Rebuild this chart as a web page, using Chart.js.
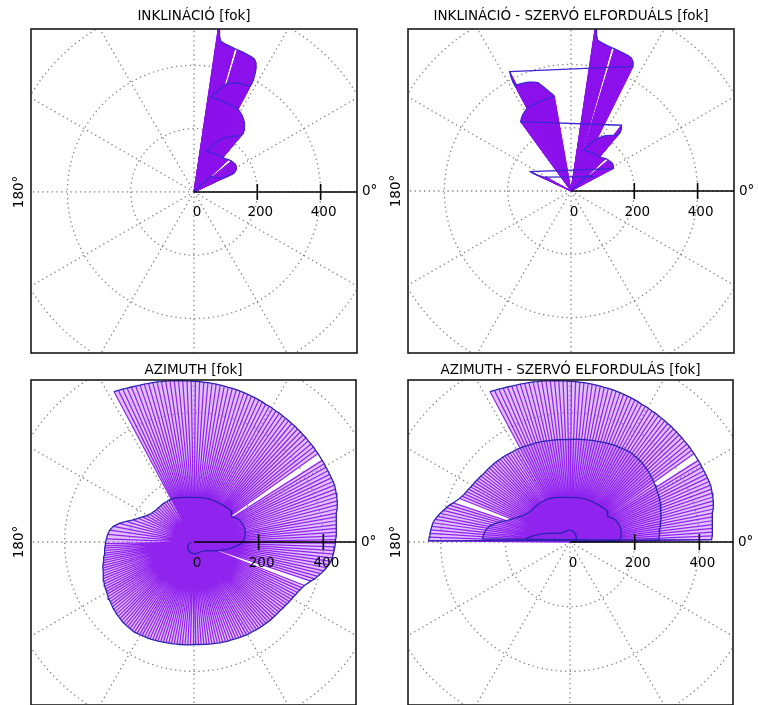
<!DOCTYPE html>
<html>
<head>
<meta charset="utf-8">
<script src="https://cdn.jsdelivr.net/npm/chart.js"></script>
<style>
  body { margin: 0; background: #fff; width: 758px; height: 705px; overflow: hidden; position: relative; }
  canvas { position: absolute; }
</style>
</head>
<body>
<canvas id="incChart" width="379" height="355" style="left:0;top:0"></canvas>
<canvas id="incServoChart" width="379" height="355" style="left:379px;top:0"></canvas>
<canvas id="aziChart" width="379" height="350" style="left:0;top:355px"></canvas>
<canvas id="aziServoChart" width="379" height="350" style="left:379px;top:355px"></canvas>
<script>
// polar grid + axis
const ringRadii = [200, 400, 600];
const gridAngles = [0, 30, 60, 90, 120, 150, 180, 210, 240, 270, 300, 330];
const tickValues = [0, 200, 400];
const tickLabels = ["0", "200", "400"];
const zeroLabel = "0°";
const halfLabel = "180°";

// inclination samples (deg, radius); null radius = missing sample
const inclinationAngles = [
  45, 44.5, 44, 43.5, 43, 38, 33, 29, 26.5, 25.5,
  25, 25, 25.5, 28, 31, 34, 37, 39.5, 41, 43,
  46, 50, 55, 60, 66, 73, 71, 68.5, 66, 63.5,
  61, 58, 55, 52, 50, 50, 51, 52.5, 54, 56,
  58, 60, 62, 66, 71, 76, 80, 79, 77.5, 76,
  74.5, 73, 71, 68.5, 65, 62, 62, 62.3, 62.8, 63.5,
  64.3, 65.5, 67, 69, 71, 73, 73.6, 74.2, 76, 78,
  80, 80.5, 81, 81.3, 81.5, 81.6,
];
const inclinationRadii = [
  0, 20, 40, 58, 74, 78, 83, 90, 100, 112,
  124, 135, 142, 151, 156, 157, 155, 153, null, 150,
  145, 141, 139, 138, 136, 135, 143, 156, 170, 183,
  195, 206, 215, 224, 232, 242, 252, 262, 271, 279,
  286, 291, 296, 298, 300, 302, 304, 312, 322, 334,
  346, 358, 364, 370, 374, 378, 392, 408, 424, 440,
  452, 461, 464, 466, 468, 470, null, 471, 474, 478,
  484, 495, 510, 540, 580, 620,
];
// same samples, inclination - servo
const inclinationServoAngles = [
  45, 44.5, 44, 43.5, 43, 38, 33, 151, 153.5, 154.5,
  155, 155, 154.5, 28, 31, 34, 37, 39.5, 41, 43,
  46, 50, 55, 60, 66, 73, 71, 68.5, 66, 63.5,
  61, 58, 55, 52, 50, 50, 51, 52.5, 126, 124,
  122, 120, 118, 114, 109, 104, 100, 101, 102.5, 104,
  105.5, 107, 109, 111.5, 115, 118, 118, 117.7, 117.2, 63.5,
  64.3, 65.5, 67, 69, 71, 73, 73.6, 74.2, 76, 78,
  80, 80.5, 81, 81.3, 81.5, 81.6,
];

// azimuth samples, split where the servo steps
const azimuthAnglesA = [
  118, 116.5, 115, 113.5, 112, 110.5, 109, 107.5, 106, 104.5,
  103, 101.5, 100, 98.5, 97, 95.5, 94, 92.5, 91, 89.5,
  88, 86.5, 85, 83.5, 82, 80.5, 79, 77.5, 76, 74.5,
  73, 71.5, 70, 68.5, 67, 65.5, 64, 62.5, 61, 59.5,
  58, 56.5, 55, 53.5, 52, 50.5, 49, 47.5, 46, 44.5,
  43, 41.5, 40, 38.5, 37, 35.5, 34, 32.5, 31, 29.5,
  28, 26.5, 25, 23.5, 22, 20.5, 19, 17.5, 16, 14.5,
  13, 11.5, 10, 8.5, 7, 5.5, 4, 2.5, 1,
];
const azimuthRadiiA = [
  527, 524, 522, 519, 517, 515, 513, 512, 510, 509,
  508, 506, 505, 504, 503, 501, 500, 499, 498, 497,
  496, 495, 495, 494, 493, 492, 491, 490, 490, 489,
  488, 487, 486, 485, 484, 483, 482, 480, 480, 479,
  478, 478, 477, 476, 476, 475, 475, 474, 474, 473,
  473, 472, 472, 472, 471, 471, null, 470, 470, 469,
  469, 469, 469, 469, 469, 467, 465, 463, 461, 458,
  454, 449, 447, 445, 444, 442, 441, 440, 438,
];
const azimuthAnglesB = [
  -0.5, -2, -3.5, -5, -6.5, -8, -9.5, -11, -12.5, -14,
  -15.5, -17, -18.5, -20, -21.5, -23, -24.5, -26, -27.5, -29,
  -30.5, -32, -33.5, -35, -36.5, -38, -39.5, -41, -42.5, -44,
  -45.5, -47, -48.5, -50, -51.5, -53, -54.5, -56, -57.5, -59,
  -60.5, -62, -63.5, -65, -66.5, -68, -69.5, -71, -72.5, -74,
  -75.5, -77, -78.5, -80, -81.5, -83, -84.5, -86, -87.5, -89,
  -90.5, -92, -93.5, -95, -96.5, -98, -99.5, -101, -102.5, -104,
  -105.5, -107, -108.5, -110, -111.5, -113, -114.5, -116, -117.5, -119,
  -120.5, -122, -123.5, -125, -126.5, -128, -129.5, -131, -132.5, -134,
  -135.5, -137, -138.5, -140, -141.5, -143, -144.5, -146, -147.5, -149,
  -150.5, -152, -153.5, -155, -156.5, -158, -159.5, -161, -162.5, -164,
  -165.5, -167, -168.5, -170, -171.5, -173, -174.5, -176, -177.5, -179,
];
const azimuthRadiiB = [
  437, 436, 434, 432, 430, 428, 423, 417, 411, 404,
  397, 390, 381, null, 367, 363, 359, 356, 354, 351,
  349, 348, 346, 344, 343, 341, 340, 340, 339, 338,
  338, 337, 336, 335, 335, 334, 333, 332, 331, 331,
  330, 329, 328, 327, 326, 325, 324, 324, 323, 322,
  322, 321, 320, 320, 319, 319, 318, 318, 317, 317,
  317, 318, 318, 319, 319, 320, 320, 321, 322, 322,
  323, 324, 325, 326, 327, 328, 329, 330, 330, 331,
  332, 333, 334, 334, 333, 333, 332, 332, 331, 329,
  328, 327, 325, 324, 322, 320, 318, 317, 315, 313,
  311, 310, 308, 306, 304, 302, 299, 297, 295, 293,
  291, 288, 286, 283, 281, 279, 278, 276, 275, 274,
];
const azimuthAnglesC = [
  -182, -185, -188, -191, -194, -197, -200, -203, -206, -209,
  -212, -215, -218, -221, -224, -227, -230, -233, -236, -239,
  -242, -245, -248, -251, -254, -257, -260, -263, -266, -269,
  -272, -275, -278, -281, -284, -287, -290, -293, -296, -299,
  -302, -305, -308, -311, -314, -317, -320, -323, -326, -329,
  -332, -335, -338, -341, -344, -347, -350, -353, -356, -359,
];
const azimuthRadiiC = [
  271, 268, 263, 254, 238, 219, 200, 188, 177, 168,
  162, 158, 155, 153, 153, 152, 152, 152, 151, 151,
  150, 149, 147, 145, 143, 142, 140, 139, 138, 138,
  138, 138, 139, 139, 140, 140, 141, 142, 142, 143,
  143, 144, 145, 146, 147, 149, 150, 146, 140, 147,
  153, 157, 159, 161, 162, 162, 161, 159, 156, 152,
];
const azimuthAnglesD = [
  -362, -366, -370, -374, -378, -382, -386, -390, -394, -398,
  -402, -406, -410, -414, -418, -422, -426, -430, -434, -438,
  -442, -446, -450, -454, -458, -462, -466, -470, -474, -478,
  -482, -486, -490, -494, -498, -502, -506, -510, -514, -518,
  -522, -526, -530,
];
const azimuthRadiiD = [
  146, 130, 113, 98, 84, 72, 62, 54, 48, 44,
  41, 39, 38, 37, 37, 36, 36, 36, 36, 37,
  37, 37, 36, 36, 35, 35, 34, 33, 32, 31,
  30, 29, 28, 27, 26, 25, 24, 22, 20, 18,
  15, 12, 8,
];
const servoOffsets = [0, 180, 360, 540];

Chart.defaults.font.family = "'DejaVu Sans', sans-serif";

const deg = Math.PI / 180;
function toXY(a, r) {
  return { x: r * Math.cos(a * deg), y: r * Math.sin(a * deg) };
}

function samples(angles, radii, offset) {
  return angles.map((a, i) => ({ a: a + (offset || 0), r: radii[i] }));
}

// wedge fill between neighbouring samples, a spoke per sample, and the sample trace
function polarSets(list, look) {
  const origin = { x: 0, y: 0 };
  const gap = { x: null, y: null };
  const wedges = [], spokes = [], edge = [];
  list.forEach((s, i) => {
    if (s.r === null) return;
    const p = toXY(s.a, s.r);
    spokes.push(origin, p);
    edge.push(p);
    const n = list[i + 1];
    if (n && n.r !== null && Math.abs(n.a - s.a) <= 20) {
      wedges.push(origin, p, toXY(n.a, n.r), gap);
    }
  });
  return [
    { data: edge, showLine: true, borderColor: look.edge, borderWidth: 1.3, order: 1 },
    { data: spokes, showLine: true, borderColor: look.spoke, borderWidth: look.spokeWidth, borderJoinStyle: "bevel", order: 2 },
    { data: wedges, showLine: true, spanGaps: false, borderWidth: 0, backgroundColor: look.fill, fill: "shape", order: 3 },
  ];
}

const polarFrame = {
  id: "polarFrame",
  beforeDatasetsDraw(chart) {
    const { ctx, chartArea: a, scales: { x, y } } = chart;
    const cx = x.getPixelForValue(0), cy = y.getPixelForValue(0);
    ctx.save();
    ctx.beginPath();
    ctx.rect(a.left, a.top, a.right - a.left, a.bottom - a.top);
    ctx.clip();
    ctx.strokeStyle = "#808080";
    ctx.lineWidth = 1.3;
    ctx.setLineDash([1.3, 3.4]);
    ringRadii.forEach((r) => {
      ctx.beginPath();
      ctx.arc(cx, cy, x.getPixelForValue(r) - cx, 0, Math.PI * 2);
      ctx.stroke();
    });
    const far = ringRadii[ringRadii.length - 1] * 1.5;
    gridAngles.forEach((d) => {
      ctx.beginPath();
      ctx.moveTo(cx, cy);
      ctx.lineTo(x.getPixelForValue(far * Math.cos(d * deg)), y.getPixelForValue(far * Math.sin(d * deg)));
      ctx.stroke();
    });
    ctx.restore();
  },
  afterDatasetsDraw(chart) {
    const { ctx, chartArea: a, scales: { x, y } } = chart;
    const cx = x.getPixelForValue(0), cy = y.getPixelForValue(0);
    ctx.save();
    ctx.strokeStyle = "#1a1a1a";
    ctx.lineWidth = 1.6;
    ctx.strokeRect(a.left, a.top, a.right - a.left, a.bottom - a.top);
    ctx.strokeStyle = "#000";
    ctx.beginPath();
    ctx.moveTo(cx, cy);
    ctx.lineTo(a.right, cy);
    ctx.stroke();
    ctx.font = "13.5px 'DejaVu Sans'";
    ctx.fillStyle = "#000";
    ctx.textAlign = "center";
    ctx.textBaseline = "middle";
    tickValues.forEach((v, i) => {
      const px = x.getPixelForValue(v);
      if (v !== 0) {
        ctx.beginPath();
        ctx.moveTo(px, cy - 8);
        ctx.lineTo(px, cy + 8);
        ctx.stroke();
      }
      ctx.fillText(tickLabels[i], px + 3, cy + 21);
    });
    ctx.textAlign = "left";
    ctx.fillText(zeroLabel, a.right + 5, cy);
    ctx.translate(a.left - 12, cy);
    ctx.rotate(-Math.PI / 2);
    ctx.textAlign = "center";
    ctx.fillText(halfLabel, 0, 0);
    ctx.restore();
  },
};

function polarChart(id, title, list, look, box) {
  return new Chart(document.getElementById(id), {
    type: "scatter",
    data: { datasets: polarSets(list, look) },
    options: {
      responsive: false,
      animation: false,
      events: [],
      layout: { padding: box.padding },
      elements: { point: { radius: 0, hoverRadius: 0 }, line: { tension: 0 } },
      scales: {
        x: { type: "linear", display: false, min: box.x[0], max: box.x[1] },
        y: { type: "linear", display: false, min: box.y[0], max: box.y[1] },
      },
      plugins: {
        legend: { display: false },
        tooltip: { enabled: false },
        title: {
          display: true,
          text: title,
          color: "#000",
          font: { size: 13.5, weight: "normal" },
          padding: { top: 0, bottom: box.titleGap },
        },
      },
    },
    plugins: [polarFrame],
  });
}

const solidLook = { fill: "rgb(140, 16, 236)", spoke: "rgb(140, 16, 236)", spokeWidth: 1, edge: "rgb(60, 40, 210)" };
const fanLook = { fill: "rgba(182, 105, 255, 0.42)", spoke: "rgb(145, 35, 238)", spokeWidth: 1.25, edge: "rgb(45, 35, 175)" };

polarChart("incChart", "INKLINÁCIÓ [fok]",
  samples(inclinationAngles, inclinationRadii), solidLook,
  { padding: { left: 31, right: 22, top: 8.8, bottom: 2 }, titleGap: 4.0, x: [-515, 515], y: [-509, 515] });

polarChart("incServoChart", "INKLINÁCIÓ - SZERVÓ ELFORDUÁLS [fok]",
  samples(inclinationServoAngles, inclinationRadii), solidLook,
  { padding: { left: 29, right: 24, top: 8.8, bottom: 2 }, titleGap: 4.0, x: [-515, 515], y: [-512, 512] });

const azimuthParts = [
  [azimuthAnglesA, azimuthRadiiA],
  [azimuthAnglesB, azimuthRadiiB],
  [azimuthAnglesC, azimuthRadiiC],
  [azimuthAnglesD, azimuthRadiiD],
];

polarChart("aziChart", "AZIMUTH [fok]",
  azimuthParts.flatMap(([a, r]) => samples(a, r, 0)), fanLook,
  { padding: { left: 31, right: 23, top: 7.6, bottom: 0 }, titleGap: 1.2, x: [-504, 501], y: [-504, 501] });

polarChart("aziServoChart", "AZIMUTH - SZERVÓ ELFORDULÁS [fok]",
  azimuthParts.flatMap(([a, r], i) => samples(a, r, servoOffsets[i])), fanLook,
  { padding: { left: 29, right: 25, top: 7.6, bottom: 0 }, titleGap: 1.2, x: [-501, 504], y: [-504, 501] });
</script>
</body>
</html>
